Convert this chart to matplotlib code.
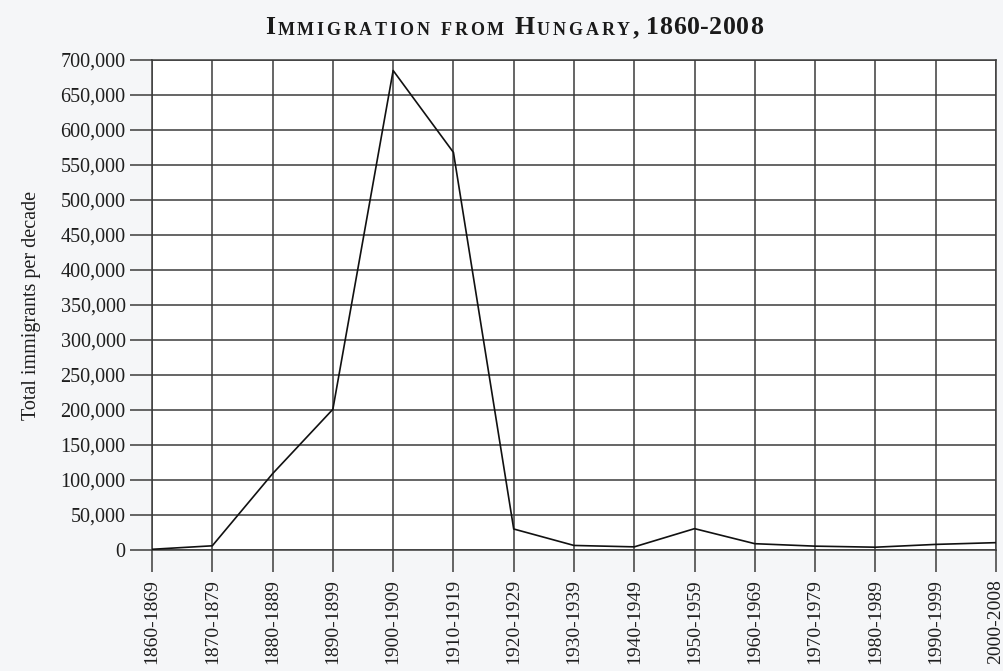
import matplotlib.pyplot as plt
from matplotlib.ticker import FuncFormatter

decades = ["1860-1869", "1870-1879", "1880-1889", "1890-1899", "1900-1909",
           "1910-1919", "1920-1929", "1930-1939", "1940-1949", "1950-1959",
           "1960-1969", "1970-1979", "1980-1989", "1990-1999", "2000-2008"]
immigrants = [1000, 6000, 109000, 201000, 685000,
              568000, 30000, 6500, 4500, 30500,
              9000, 5500, 4000, 8000, 10500]
y_ticks = list(range(0, 700001, 50000))

plt.rcParams['font.family'] = ['Liberation Serif', 'DejaVu Serif']
grid_col = '#3c3c3c'
text_col = '#1e1e1e'

fig = plt.figure(figsize=(10.04, 6.71), dpi=100, facecolor='#f5f6f8')
ax = fig.add_axes([152 / 1004, 1 - 550 / 671, (996 - 152) / 1004, (550 - 60) / 671])
ax.set_facecolor('white')

x = list(range(len(decades)))
ax.plot(x, immigrants, color='#111111', lw=1.2, zorder=3)

ax.set_xlim(0, len(decades) - 1)
ax.set_ylim(0, 700000)
ax.set_xticks(x)
ax.set_xticklabels(decades, rotation=90, fontsize=14, color=text_col)
ax.set_yticks(y_ticks)
ax.yaxis.set_major_formatter(FuncFormatter(lambda v, p: f"{int(v):,}"))
for lab in ax.get_yticklabels():
    lab.set_fontsize(14.5)
    lab.set_color(text_col)
ax.tick_params(axis='both', direction='out', length=16, width=1.1, color=grid_col)
ax.tick_params(axis='y', pad=3)
ax.tick_params(axis='x', pad=5)
ax.grid(True, color=grid_col, lw=1.1, zorder=1)
for s in ax.spines.values():
    s.set_color(grid_col)
    s.set_linewidth(1.1)

ax.set_ylabel("Total immigrants per decade", fontsize=14.5, color=text_col)
ax.yaxis.set_label_coords(-0.131, 0.5)

# small-caps title, one character at a time with letter spacing
big, small = 18.5, 13
pieces = [("I", big, 1.6), ("MMIGRATION", small, 2.0), (" ", small, 6), ("FROM", small, 2.0),
          (" ", small, 6), ("H", big, 1.6), ("UNGARY", small, 2.0), (",", big, 0.5),
          (" ", big, 4.5), ("1860-2008", big, 0.4)]
prev = None
pending = 0
for s, size, gap in pieces:
    if s == " ":
        pending += gap
        continue
    for ch in s:
        if prev is None:
            t = fig.text(0.264, 1 - 34 / 671, ch, fontsize=size, fontweight='bold',
                         color='#1a1a1a', va='baseline', ha='left')
        else:
            t = ax.annotate(ch, xy=(1, 0), xycoords=prev, xytext=(pending, 0),
                            textcoords='offset points', fontsize=size, fontweight='bold',
                            color='#1a1a1a', va='bottom', ha='left', annotation_clip=False)
        prev = t
        pending = gap

fig.savefig("out.png", dpi=100, facecolor=fig.get_facecolor())
